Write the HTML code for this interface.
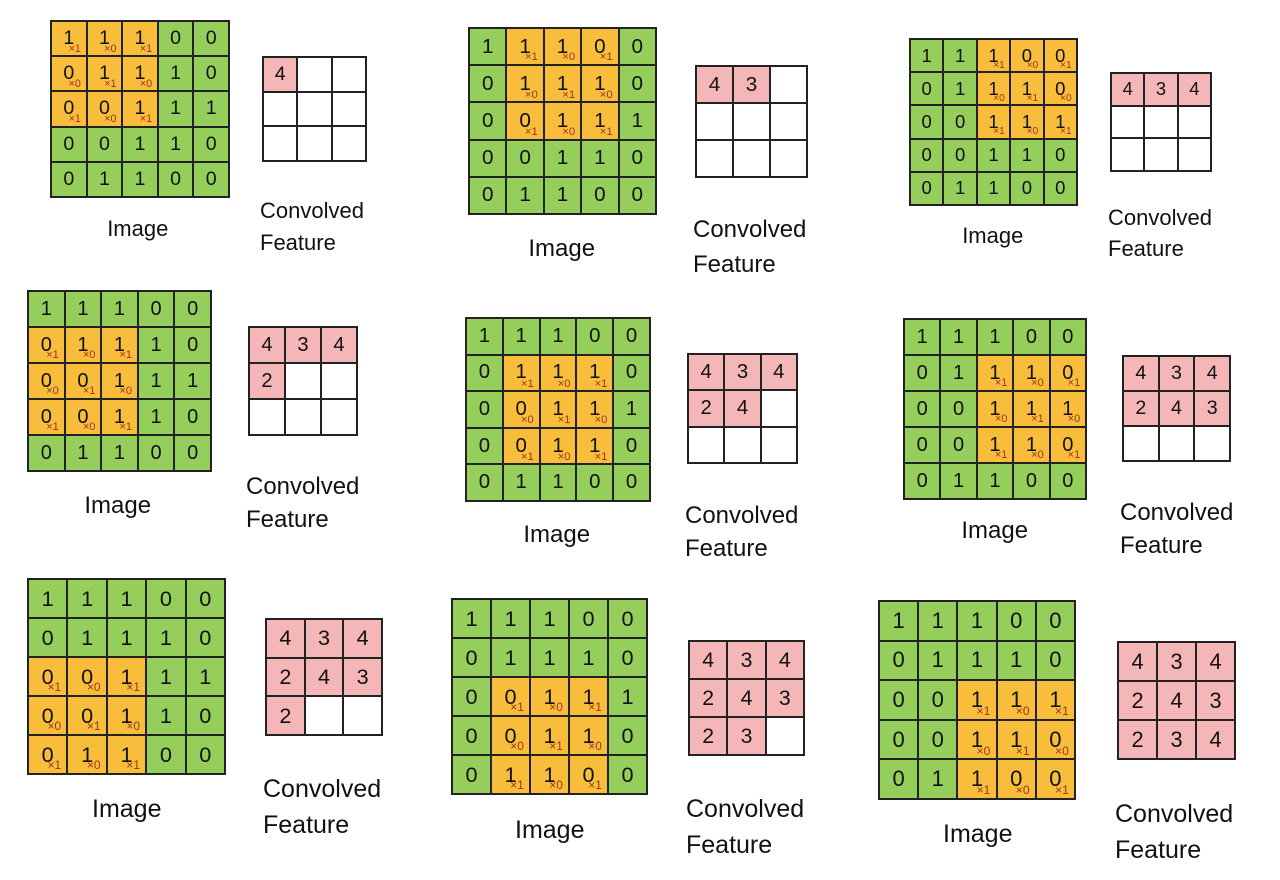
<!DOCTYPE html>
<html><head><meta charset="utf-8"><style>
body{margin:0;width:1280px;height:880px;background:#fff;position:relative;overflow:hidden;font-family:"Liberation Sans",sans-serif}
.g{position:absolute;border:1.5px solid #222;box-sizing:border-box;display:grid}
.c{border:1px solid #222;box-sizing:border-box;position:relative;display:flex;align-items:center;justify-content:center;color:#111}
.c sub{position:absolute;color:#a0321e;font-size:0.55em;right:14%;bottom:2%}
.l{position:absolute;color:#111;line-height:1.15}
</style></head><body>
<div id="r"></div>
<script>
const img=[[1,1,1,0,0],[0,1,1,1,0],[0,0,1,1,1],[0,0,1,1,0],[0,1,1,0,0]];
const K=[[1,0,1],[0,1,0],[1,0,1]];
const out=[4,3,4,2,4,3,2,3,4];
const P=[
[50,20,180,178, 262,56,105,106, 138,229, 260,211,243, 22],
[468,27,189,188, 695,65,113,113, 562,249, 693,230,265, 24],
[909,38,169,168, 1110,72,102,100, 993,236, 1108,218,249, 22],
[27,290,185,182, 248,326,110,110, 118,506, 246,487,520, 24],
[465,317,186,185, 687,353,111,111, 557,535, 685,516,549, 24],
[903,318,184,182, 1122,355,109,107, 995,531, 1120,513,546, 24],
[27,578,199,197, 265,618,118,118, 127,810, 263,790,826, 25],
[451,598,197,197, 688,640,117,116, 550,831, 686,810,846, 25],
[878,600,198,200, 1117,641,119,119, 978,835, 1115,815,851, 25]];
let h='';
P.forEach((p,k)=>{
 const [x,y,w,hh,cx,cy,cw,ch,ix,iy,fx,fy1,fy2,fs]=p;
 const R=Math.floor(k/3),C=k%3, cs=hh/5;
 h+=`<div class="g" style="left:${x}px;top:${y}px;width:${w}px;height:${hh}px;grid-template:repeat(5,1fr)/repeat(5,1fr);font-size:${cs*0.55}px">`;
 for(let i=0;i<5;i++)for(let j=0;j<5;j++){
  const inw=i>=R&&i<R+3&&j>=C&&j<C+3;
  h+=`<div class="c" style="background:${inw?'#f9bd3c':'#96ce5c'}">${img[i][j]}${inw?`<sub>×${K[i-R][j-C]}</sub>`:''}</div>`;
 }
 h+='</div>';
 h+=`<div class="g" style="left:${cx}px;top:${cy}px;width:${cw}px;height:${ch}px;grid-template:repeat(3,1fr)/repeat(3,1fr);font-size:${ch/3*0.55}px">`;
 for(let n=0;n<9;n++){h+=`<div class="c" style="background:${n<=k?'#f4b6b6':'#fff'}">${n<=k?out[n]:''}</div>`;}
 h+='</div>';
 h+=`<div class="l" style="left:${ix-fs*1.4}px;top:${iy-fs*0.6}px;font-size:${fs}px">Image</div>`;
 h+=`<div class="l" style="left:${fx}px;top:${fy1-fs*0.6}px;font-size:${fs}px">Convolved</div>`;
 h+=`<div class="l" style="left:${fx}px;top:${fy2-fs*0.6}px;font-size:${fs}px">Feature</div>`;
});
document.getElementById('r').innerHTML=h;
</script>
</body></html>
